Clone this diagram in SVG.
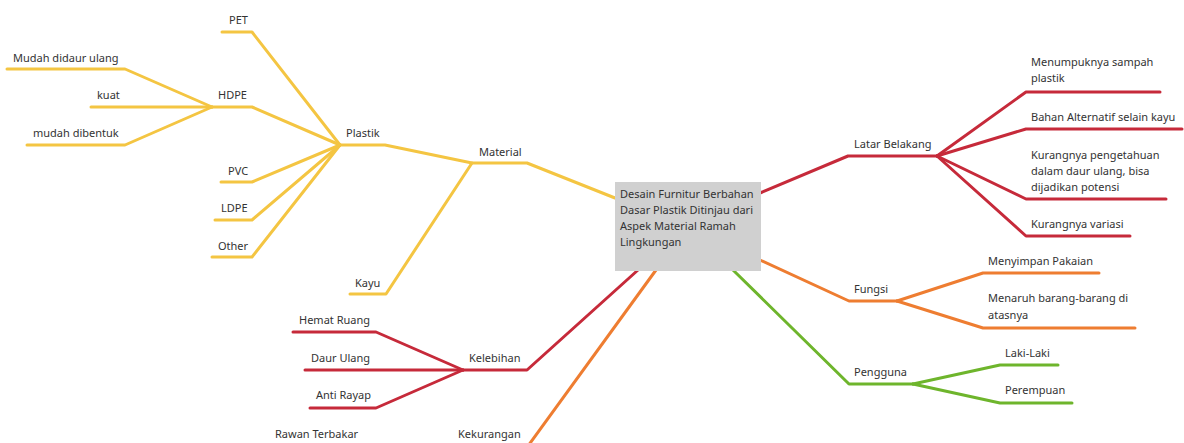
<svg xmlns="http://www.w3.org/2000/svg" width="1184" height="443" viewBox="0 0 1184 443">
<style>
text{font-family:"Noto Sans","Open Sans","Liberation Sans",sans-serif;font-size:11px;fill:#333}
.c{fill:none;stroke-width:3;stroke-linejoin:round;stroke-linecap:round}
.y{stroke:#f4c542}.r{stroke:#c62a3a}.o{stroke:#ee7d31}.g{stroke:#6eb52c}
</style>
<rect width="1184" height="443" fill="#fff"/>
<g id="connectors">
<path class="c y" d="M615,198 L527,163 L472,163 L385,145 L340,145"/>
<path class="c y" d="M472,163 L386,294 L350,294"/>
<path class="c y" d="M340,145 L252,32 L222,32"/>
<path class="c y" d="M340,145 L252,107 L212,107"/>
<path class="c y" d="M340,145 L252,182 L221,182"/>
<path class="c y" d="M340,145 L252,220 L215,220"/>
<path class="c y" d="M340,145 L252,257 L212,257"/>
<path class="c y" d="M212,107 L125,69 L7,69"/>
<path class="c y" d="M212,107 L91,107"/>
<path class="c y" d="M212,107 L125,145 L27,145"/>
<path class="c r" d="M760,193 L848,156 L937,156"/>
<path class="c r" d="M937,156 L1026,92 L1160,92"/>
<path class="c r" d="M937,156 L1026,129 L1182,129"/>
<path class="c r" d="M937,156 L1026,199 L1166,199"/>
<path class="c r" d="M937,156 L1026,236 L1130,236"/>
<path class="c o" d="M760,260 L849,301 L897,301"/>
<path class="c o" d="M897,301 L983,273 L1099,273"/>
<path class="c o" d="M897,301 L983,328 L1135,328"/>
<path class="c g" d="M733,270 L849,384 L913,384"/>
<path class="c g" d="M913,384 L1000,365 L1058,365"/>
<path class="c g" d="M913,384 L1000,403 L1072,403"/>
<path class="c r" d="M638,270 L527,370 L463,370"/>
<path class="c r" d="M463,370 L376,332 L293,332"/>
<path class="c r" d="M463,370 L305,370"/>
<path class="c r" d="M463,370 L376,408 L310,408"/>
<path class="c o" d="M656,270 L528,446"/>
</g>
<g id="central">
<rect x="615" y="182" width="146" height="89" fill="#d0d0d0"/>
<text x="620" y="198">Desain Furnitur Berbahan</text>
<text x="620" y="214">Dasar Plastik Ditinjau dari</text>
<text x="620" y="230">Aspek Material Ramah</text>
<text x="620" y="246">Lingkungan</text>
</g>
<g id="material"><text x="479" y="156">Material</text></g>
<g id="plastik"><text x="346" y="137">Plastik</text></g>
<g id="kayu"><text x="355" y="287">Kayu</text></g>
<g id="pet"><text x="229" y="24">PET</text></g>
<g id="hdpe"><text x="218" y="99">HDPE</text></g>
<g id="pvc"><text x="228" y="175">PVC</text></g>
<g id="ldpe"><text x="221" y="212">LDPE</text></g>
<g id="other"><text x="218" y="250">Other</text></g>
<g id="mudah-didaur"><text x="13" y="62">Mudah didaur ulang</text></g>
<g id="kuat"><text x="97" y="99">kuat</text></g>
<g id="mudah-dibentuk"><text x="33" y="137">mudah dibentuk</text></g>
<g id="latar"><text x="854" y="148">Latar Belakang</text></g>
<g id="menumpuk"><text x="1031" y="66">Menumpuknya sampah</text><text x="1031" y="82">plastik</text></g>
<g id="bahan"><text x="1031" y="121">Bahan Alternatif selain kayu</text></g>
<g id="kurang-tahu"><text x="1031" y="159">Kurangnya pengetahuan</text><text x="1031" y="175">dalam daur ulang, bisa</text><text x="1031" y="191">dijadikan potensi</text></g>
<g id="kurang-variasi"><text x="1031" y="228">Kurangnya variasi</text></g>
<g id="fungsi"><text x="854" y="293">Fungsi</text></g>
<g id="menyimpan"><text x="988" y="265">Menyimpan Pakaian</text></g>
<g id="menaruh"><text x="988" y="302">Menaruh barang-barang di</text><text x="988" y="319">atasnya</text></g>
<g id="pengguna"><text x="854" y="376">Pengguna</text></g>
<g id="laki"><text x="1005" y="357">Laki-Laki</text></g>
<g id="perempuan"><text x="1005" y="394">Perempuan</text></g>
<g id="kelebihan"><text x="469" y="362">Kelebihan</text></g>
<g id="hemat"><text x="299" y="324">Hemat Ruang</text></g>
<g id="daur"><text x="311" y="362">Daur Ulang</text></g>
<g id="anti"><text x="316" y="399">Anti Rayap</text></g>
<g id="kekurangan"><text x="458" y="438">Kekurangan</text></g>
<g id="rawan"><text x="275" y="438">Rawan Terbakar</text></g>
</svg>
